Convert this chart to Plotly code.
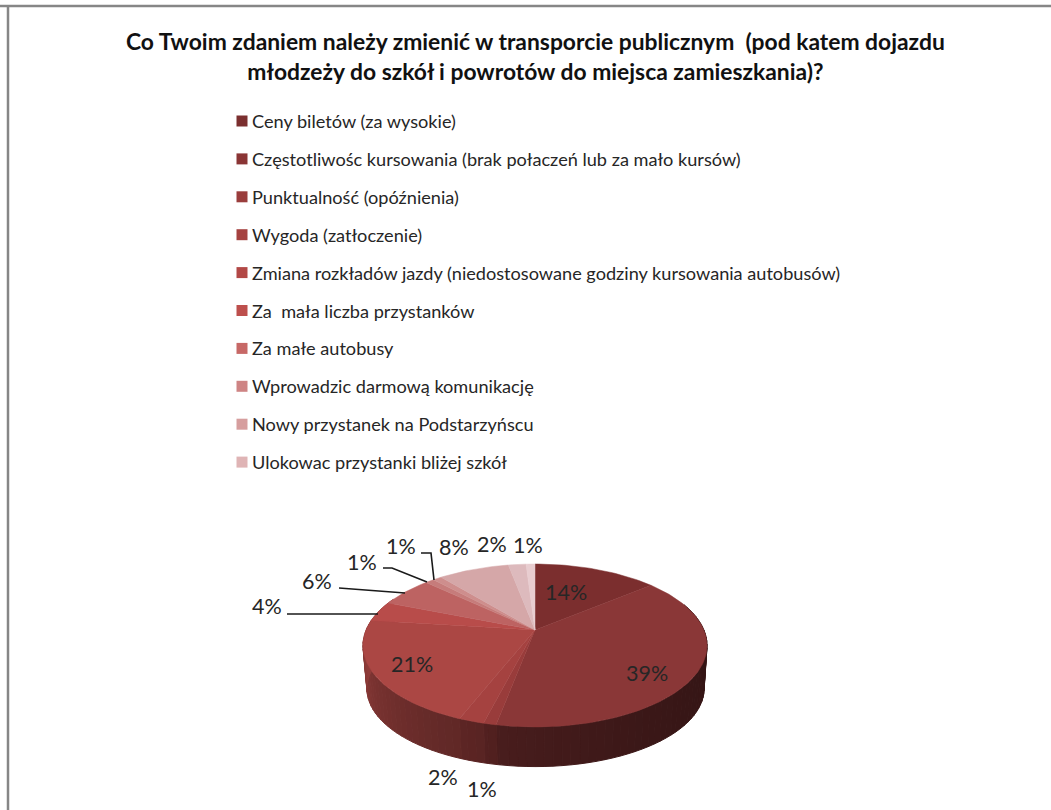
import math
import plotly.graph_objects as go

# ---- data ----
legend_names = [
    "Ceny biletów (za wysokie)",
    "Częstotliwośc kursowania (brak połaczeń lub za mało kursów)",
    "Punktualność (opóźnienia)",
    "Wygoda (zatłoczenie)",
    "Zmiana rozkładów jazdy (niedostosowane godziny kursowania autobusów)",
    "Za  mała liczba przystanków",
    "Za małe autobusy",
    "Wprowadzic darmową komunikację",
    "Nowy przystanek na Podstarzyńscu",
    "Ulokowac przystanki bliżej szkół",
]
values = [14, 39, 1, 2, 21, 4, 6, 1, 1, 8, 2, 1]
slice_colors = ["#7B2E2E", "#8A3737", "#993C3B", "#A54240", "#AB4744", "#B84C4A",
                "#BD6362", "#C67C7B", "#CE8E8D", "#D5A7A8", "#DDBABD", "#E8CDD0"]
legend_colors = ["#7B2F2F", "#8A3535", "#9A3D3C", "#A54240", "#B24846",
                 "#BD4F4D", "#C76866", "#CE8484", "#D69E9E", "#DFB4B5"]
title_text = ("Co Twoim zdaniem należy zmienić w transporcie publicznym  (pod katem dojazdu<br>"
              "młodzeży do szkół i powrotów do miejsca zamieszkania)?")

# ---- layout of the drawing, in picture pixels ----
W, H = 1051, 810
CX, CY = 535, 630
A, RY, K = 168.9, 78.5, 0.19
BCX, BCY = 535.5, 674
BA, BRY = 165.5, 75.0
LEG_X, LEG_Y, LEG_STEP = 242, 121, 37.9
label_xy = [(566, 592), (647, 673), (482, 789), (443, 777), (412, 664), (267, 606),
            (317, 581), (362, 562), (401, 546), (454, 547), (492, 544), (528, 545)]
leaders = [
    [(287, 614), (378, 614)],
    [(339, 588), (405, 593)],
    [(383, 568), (392, 568), (427, 582)],
    [(421, 553), (431, 553), (434, 580)],
]


def rim(deg, cx, cy, a, ry):
    t = math.radians(deg)
    w = 1 + K * math.cos(t)
    return cx + a * math.sin(t) / w, cy - ry * math.cos(t) / w


def shade(hex_color, deg):
    t = max(0.0, min(1.0, (deg - 90) / 180))
    f = 0.38 + 0.47 * t * t
    r, g, b = (int(hex_color[i:i + 2], 16) for i in (1, 3, 5))
    return f"rgb({r * f:.0f},{g * f:.0f},{b * f:.0f})"


total = sum(values)
edges = [0.0]
for v in values:
    edges.append(edges[-1] + 360.0 * v / total)

fig = go.Figure()

# side wall
for i, col in enumerate(slice_colors):
    lo, hi = max(edges[i], 70), min(edges[i + 1], 295)
    d = lo
    while d < hi:
        e = min(d + 2.5, hi)
        p = [rim(d, CX, CY, A, RY), rim(e, CX, CY, A, RY),
             rim(e, BCX, BCY, BA, BRY), rim(d, BCX, BCY, BA, BRY)]
        c = shade(col, (d + e) / 2)
        fig.add_trace(go.Scatter(x=[q[0] for q in p] + [p[0][0]], y=[q[1] for q in p] + [p[0][1]],
                                 mode="lines", fill="toself", fillcolor=c, line=dict(color=c, width=1),
                                 hoverinfo="skip", showlegend=False))
        d = e

# top faces
for i, col in enumerate(slice_colors):
    n = max(3, int((edges[i + 1] - edges[i]) / 1.5))
    pts = [rim(edges[i] + (edges[i + 1] - edges[i]) * j / n, CX, CY, A, RY) for j in range(n + 1)]
    xs = [CX] + [q[0] for q in pts] + [CX]
    ys = [CY] + [q[1] for q in pts] + [CY]
    fig.add_trace(go.Scatter(x=xs, y=ys, mode="lines", fill="toself", fillcolor=col,
                             line=dict(color=col, width=0.5), hoverinfo="skip", showlegend=False))

# leader lines
for seg in leaders:
    fig.add_trace(go.Scatter(x=[q[0] for q in seg], y=[q[1] for q in seg], mode="lines",
                             line=dict(color="#1a1a1a", width=1.6), hoverinfo="skip", showlegend=False))

# legend entries
for i, (name, col) in enumerate(zip(legend_names, legend_colors)):
    y = LEG_Y + LEG_STEP * i
    fig.add_trace(go.Scatter(x=[LEG_X], y=[y], mode="markers", name=name, showlegend=False,
                             marker=dict(symbol="square", size=11, color=col), hoverinfo="skip"))
    fig.add_annotation(x=LEG_X + 10, y=y, text=name, showarrow=False, xanchor="left", xshift=-2,
                       font=dict(family="Lato", size=18.15, color="#262626"))

# data labels
for (x, y), v in zip(label_xy, values):
    fig.add_annotation(x=x, y=y, text=f"{v}%", showarrow=False,
                       font=dict(family="Lato", size=21.5, color="#262626"))

fig.add_annotation(x=535, y=56, text=title_text, showarrow=False, align="center",
                   font=dict(family="Lato", size=22.85, color="#111111", weight="bold"))

# outer frame
fig.add_shape(type="line", x0=0, x1=W, y0=6, y1=6, line=dict(color="#868686", width=2.5))
fig.add_shape(type="line", x0=8, x1=8, y0=5, y1=H, line=dict(color="#868686", width=2.5))

fig.update_layout(
    width=W, height=H, margin=dict(l=0, r=0, t=0, b=0), showlegend=False,
    paper_bgcolor="white", plot_bgcolor="white",
    xaxis=dict(range=[0, W], visible=False, fixedrange=True),
    yaxis=dict(range=[H, 0], visible=False, fixedrange=True),
    hovermode=False,
)
fig.write_html("out.html", config={"displayModeBar": False},
               post_script="document.body.style.margin='0';document.body.style.overflow='hidden';")
